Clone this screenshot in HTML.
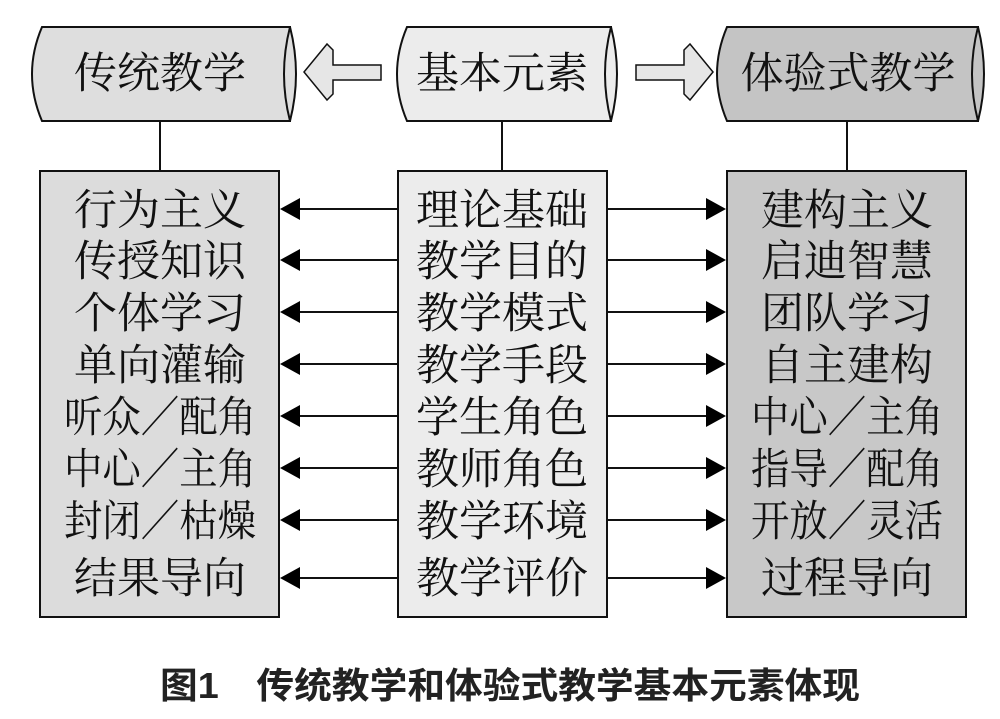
<!DOCTYPE html>
<html><head><meta charset="utf-8"><style>
html,body{margin:0;padding:0;background:#fff;}
svg{display:block;}
text{font-family:"Noto Serif CJK SC","Liberation Serif",serif;}
</style></head><body>
<svg width="1000" height="719" viewBox="0 0 1000 719" xmlns="http://www.w3.org/2000/svg">
<g stroke="#111" stroke-width="2">
<path d="M42,27 L290,27 L290,121 L42,121 Q22,74 42,27 Z" fill="#dedede"/>
<path d="M290,27 Q278,74 290,121 Q302,74 290,27 Z" fill="#dedede"/>
<path d="M407,27 L611,27 L611,121 L407,121 Q387,74 407,27 Z" fill="#ececec"/>
<path d="M611,27 Q599,74 611,121 Q623,74 611,27 Z" fill="#ececec"/>
<path d="M727,27 L978,27 L978,121 L727,121 Q707,74 727,27 Z" fill="#c4c4c4"/>
<path d="M978,27 Q966,74 978,121 Q990,74 978,27 Z" fill="#c4c4c4"/>
<path d="M381,65 L333,65 L333,50 L327,44 L304,72 L327,100 L333,94 L333,80 L381,80 Z" fill="#e6e6e6" stroke-width="1.5"/>
<path d="M636,65 L684,65 L684,50 L690,44 L713,72 L690,100 L684,94 L684,80 L636,80 Z" fill="#e6e6e6" stroke-width="1.5"/>
<line x1="160" y1="121" x2="160" y2="171"/>
<line x1="502" y1="121" x2="502" y2="171"/>
<line x1="847" y1="121" x2="847" y2="171"/>
<rect x="40" y="171" width="239" height="446" fill="#dcdcdc"/>
<rect x="398" y="171" width="209" height="446" fill="#ececec"/>
<rect x="727" y="171" width="239" height="446" fill="#c8c8c8"/>
</g>
<g stroke="#111" stroke-width="2">
<line x1="398" y1="209" x2="285" y2="209"/><line x1="607" y1="209" x2="721" y2="209"/>
<line x1="398" y1="260" x2="285" y2="260"/><line x1="607" y1="260" x2="721" y2="260"/>
<line x1="398" y1="312" x2="285" y2="312"/><line x1="607" y1="312" x2="721" y2="312"/>
<line x1="398" y1="364" x2="285" y2="364"/><line x1="607" y1="364" x2="721" y2="364"/>
<line x1="398" y1="416" x2="285" y2="416"/><line x1="607" y1="416" x2="721" y2="416"/>
<line x1="398" y1="468" x2="285" y2="468"/><line x1="607" y1="468" x2="721" y2="468"/>
<line x1="398" y1="520" x2="285" y2="520"/><line x1="607" y1="520" x2="721" y2="520"/>
<line x1="398" y1="578" x2="285" y2="578"/><line x1="607" y1="578" x2="721" y2="578"/>
</g>
<g fill="#000">
<path d="M280,209 l20,-11 v22z"/><path d="M726,209 l-20,-11 v22z"/>
<path d="M280,260 l20,-11 v22z"/><path d="M726,260 l-20,-11 v22z"/>
<path d="M280,312 l20,-11 v22z"/><path d="M726,312 l-20,-11 v22z"/>
<path d="M280,364 l20,-11 v22z"/><path d="M726,364 l-20,-11 v22z"/>
<path d="M280,416 l20,-11 v22z"/><path d="M726,416 l-20,-11 v22z"/>
<path d="M280,468 l20,-11 v22z"/><path d="M726,468 l-20,-11 v22z"/>
<path d="M280,520 l20,-11 v22z"/><path d="M726,520 l-20,-11 v22z"/>
<path d="M280,578 l20,-11 v22z"/><path d="M726,578 l-20,-11 v22z"/>
</g>
<g font-size="43" text-anchor="middle" fill="#111">
<text x="160" y="88">传统教学</text>
<text x="502" y="88">基本元素</text>
<text x="848" y="88">体验式教学</text>
<text x="160" y="225">行为主义</text><text x="160" y="276">传授知识</text><text x="160" y="328">个体学习</text><text x="160" y="380">单向灌输</text>
<text x="160" y="432" textLength="192" lengthAdjust="spacingAndGlyphs">听众／配角</text><text x="160" y="484" textLength="192" lengthAdjust="spacingAndGlyphs">中心／主角</text><text x="160" y="536" textLength="192" lengthAdjust="spacingAndGlyphs">封闭／枯燥</text><text x="160" y="593">结果导向</text>
<text x="502" y="225">理论基础</text><text x="502" y="276">教学目的</text><text x="502" y="328">教学模式</text><text x="502" y="380">教学手段</text><text x="502" y="432">学生角色</text><text x="502" y="484">教师角色</text><text x="502" y="536">教学环境</text><text x="502" y="593">教学评价</text>
<text x="847" y="225">建构主义</text><text x="847" y="276">启迪智慧</text><text x="847" y="328">团队学习</text><text x="847" y="380">自主建构</text>
<text x="847" y="432" textLength="192" lengthAdjust="spacingAndGlyphs">中心／主角</text><text x="847" y="484" textLength="192" lengthAdjust="spacingAndGlyphs">指导／配角</text><text x="847" y="536" textLength="192" lengthAdjust="spacingAndGlyphs">开放／灵活</text><text x="847" y="593">过程导向</text>
</g>
<text x="510" y="698" font-size="36" font-weight="bold" text-anchor="middle" fill="#222" textLength="700" lengthAdjust="spacingAndGlyphs" style="font-family:'Liberation Sans','Noto Sans CJK SC',sans-serif">图1　传统教学和体验式教学基本元素体现</text>
</svg>
</body></html>
